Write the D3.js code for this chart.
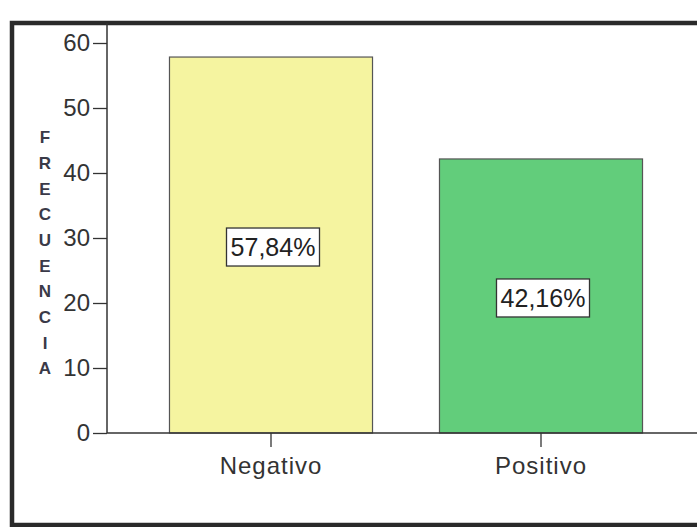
<!DOCTYPE html>
<html>
<head>
<meta charset="utf-8">
<script src="https://cdn.jsdelivr.net/npm/d3@7"></script>
<style>
  html, body { margin: 0; padding: 0; background: #fff; }
  svg { display: block; }
  text { font-family: "Liberation Sans", Arial, sans-serif; }
</style>
</head>
<body>
<svg id="chart" width="697" height="527"></svg>
<script>
const categories = ["Negativo", "Positivo"];
const values = [57.84, 42.16];
const percentLabels = ["57,84%", "42,16%"];
const barColors = ["#f5f4a0", "#62cd7b"];
const yTicks = [0, 10, 20, 30, 40, 50, 60];
const axisTitle = "FRECUENCIA";

const svg = d3.select("#chart");
const axisX = 107, baseY = 433;

// outer frame
svg.append("rect")
  .attr("x", 12).attr("y", 23).attr("width", 720).attr("height", 502)
  .attr("fill", "none").attr("stroke", "#2a2a2a").attr("stroke-width", 4.5);

const y = d3.scaleLinear().domain([0, 60]).range([baseY, 43]);
const x = d3.scaleBand().domain(categories).range([136, 676])
  .paddingInner(0.248).paddingOuter(0.124);

// bars
svg.selectAll("rect.bar").data(values).enter().append("rect")
  .attr("class", "bar")
  .attr("x", (d, i) => x(categories[i]))
  .attr("y", d => y(d))
  .attr("width", x.bandwidth())
  .attr("height", d => baseY - y(d))
  .attr("fill", (d, i) => barColors[i])
  .attr("stroke", "#555").attr("stroke-width", 1.2);

// y axis
const yAxis = d3.axisLeft(y).tickValues(yTicks).tickSize(14).tickPadding(3);
const gy = svg.append("g").attr("transform", `translate(${axisX},0)`).call(yAxis);
gy.select(".domain").remove();
gy.selectAll(".tick line").attr("stroke", "#333").attr("stroke-width", 1.3);
gy.selectAll(".tick text").attr("font-size", 24).attr("fill", "#333")
  .attr("font-family", "'Liberation Sans', Arial, sans-serif");
svg.append("line").attr("x1", axisX).attr("x2", axisX).attr("y1", 23).attr("y2", baseY)
  .attr("stroke", "#333").attr("stroke-width", 1.5);

// x axis
const xAxis = d3.axisBottom(x).tickSize(14).tickPadding(10);
const gx = svg.append("g").attr("transform", `translate(0,${baseY})`).call(xAxis);
gx.select(".domain").remove();
gx.selectAll(".tick line").attr("stroke", "#333").attr("stroke-width", 1.3);
gx.selectAll(".tick text").attr("font-size", 24).attr("letter-spacing", 1).attr("fill", "#333")
  .attr("font-family", "'Liberation Sans', Arial, sans-serif");
svg.append("line").attr("x1", axisX).attr("x2", 697).attr("y1", baseY).attr("y2", baseY)
  .attr("stroke", "#333").attr("stroke-width", 1.5);

// y axis title, stacked letters
svg.append("g").selectAll("text").data(axisTitle.split("")).enter().append("text")
  .attr("x", 45)
  .attr("y", (d, i) => 137 + i * 25.7)
  .attr("dy", "0.36em")
  .attr("text-anchor", "middle")
  .attr("font-size", 17)
  .attr("font-weight", "bold")
  .attr("fill", "#3a3a48")
  .text(d => d);

// percentage label boxes
const lbl = svg.selectAll("g.lbl").data(values).enter().append("g").attr("class", "lbl")
  .attr("transform", (d, i) => `translate(${x(categories[i]) + x.bandwidth() / 2 + 2},${(y(d) + baseY) / 2 + 2})`);
lbl.append("rect")
  .attr("x", -46.5).attr("y", -19).attr("width", 93).attr("height", 38)
  .attr("fill", "#fff").attr("stroke", "#333").attr("stroke-width", 1.3);
lbl.append("text")
  .attr("text-anchor", "middle").attr("dy", "0.36em")
  .attr("font-size", 25).attr("fill", "#222")
  .text((d, i) => percentLabels[i]);
</script>
</body>
</html>
